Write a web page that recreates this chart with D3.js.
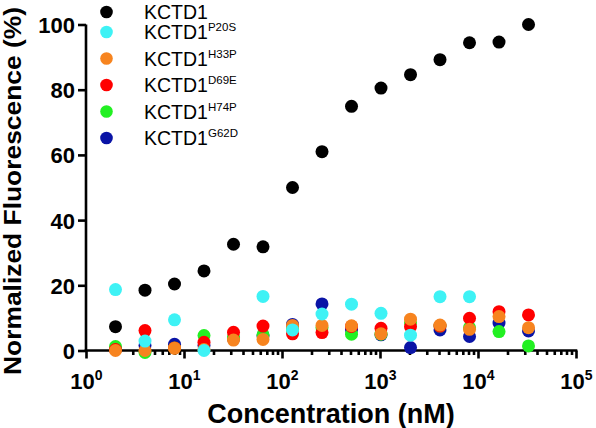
<!DOCTYPE html>
<html>
<head>
<meta charset="utf-8">
<script src="https://cdn.jsdelivr.net/npm/d3@7"></script>
<style>
html,body{margin:0;padding:0;background:#fff;}
svg{display:block;font-family:"Liberation Sans",Arial,sans-serif;}
</style>
</head>
<body>
<svg id="chart" width="596" height="428"></svg>
<script>
// ---- data ----
const concentrations = [2,4,8,16,32,64,128,256,512,1024,2048,4096,8192,16384,32768];
const seriesNames = ["KCTD1","KCTD1","KCTD1","KCTD1","KCTD1","KCTD1"];
const seriesSups  = ["","P20S","H33P","D69E","H74P","G62D"];
const seriesColors = ["#000000","#3ef2f5","#f7841f","#ff0000","#22f022","#0a14a6"];
const kctd1 = [7.3,18.5,20.4,24.4,32.6,31.8,50.0,61.0,74.9,80.5,84.6,89.2,94.4,94.6,100];
const p20s  = [18.7,2.9,9.4,0,null,16.6,6.3,11.2,14.2,11.4,4.7,16.5,16.5,null,null];
const h33p  = [0,0,0.7,0.3,3.2,3.4,7.7,7.7,7.6,5.1,9.6,7.8,6.5,10.4,7.0];
const d69e  = [0.3,6.1,0.8,2.5,5.6,7.5,5.1,5.5,7.4,6.8,7.3,7.5,9.9,11.9,10.9];
const h74p  = [1.2,-0.6,0.8,4.6,4.0,4.8,6.5,7.0,5.0,5.0,8.5,7.5,7.0,5.8,1.4];
const g62d  = [0.3,1.5,1.9,1.5,3.5,4.5,8.0,14.3,6.4,4.8,0.9,6.3,4.3,8.4,6.0];
const seriesValues = [kctd1,p20s,h33p,d69e,h74p,g62d];
const yTicks = [0,20,40,60,80,100];
const xTickExps = [0,1,2,3,4,5];

// ---- layout ----
const svg = d3.select("#chart");
const mL = 86, mR = 576, mT = 24.5, mB = 350.5;
const x = d3.scaleLog().domain([1,1e5]).range([mL,mR]);
const y = d3.scaleLinear().domain([0,100]).range([mB,mT]);
const axisW = 2.6;

// y axis
const yAxis = svg.append("g").attr("transform",`translate(${mL},0)`)
  .call(d3.axisLeft(y).tickValues(yTicks).tickSize(8).tickPadding(3).tickFormat(d3.format("d")));
yAxis.select(".domain").attr("d",`M0,${mT}V${mB}`).attr("stroke","#000").attr("stroke-width",axisW);
yAxis.selectAll(".tick line").attr("stroke","#000").attr("stroke-width",axisW);
yAxis.selectAll(".tick text").attr("font-size",22).attr("font-weight","bold").attr("fill","#000")
  .attr("font-family","'Liberation Sans',Arial,sans-serif").attr("dy","0.36em");

// x axis: minor ticks
const minorTicks = [];
for (let e=0;e<5;e++) for (let m=2;m<=9;m++) minorTicks.push(m*Math.pow(10,e));
const xMinor = svg.append("g").attr("transform",`translate(0,${mB})`)
  .call(d3.axisBottom(x).tickValues(minorTicks).tickSize(4.5).tickFormat(""));
xMinor.select(".domain").remove();
xMinor.selectAll(".tick line").attr("stroke","#000").attr("stroke-width",axisW);

const xAxis = svg.append("g").attr("transform",`translate(0,${mB})`)
  .call(d3.axisBottom(x).tickValues(xTickExps.map(e=>Math.pow(10,e))).tickSize(8).tickFormat(""));
xAxis.select(".domain").attr("d",`M${mL-axisW/2},0H${mR+axisW/2}`).attr("stroke","#000").attr("stroke-width",axisW);
xAxis.selectAll(".tick line").attr("stroke","#000").attr("stroke-width",axisW);
// x tick labels with superscripts
xAxis.selectAll(".tick").each(function(d,i){
  const t = d3.select(this).append("text").attr("y",38).attr("text-anchor","middle")
    .attr("fill","#000").attr("font-size",22).attr("font-weight","bold");
  t.append("tspan").text("10");
  t.append("tspan").attr("font-size",14).attr("dy",-9).text(String(xTickExps[i]));
});

// axis titles
svg.append("text").attr("x",(mL+mR)/2).attr("y",422.5).attr("text-anchor","middle")
  .attr("font-size",27).attr("font-weight","bold").attr("fill","#000").text("Concentration (nM)");
svg.append("text").attr("transform",`translate(20.5,191) rotate(-90)`).attr("text-anchor","middle")
  .attr("font-size",24.5).attr("font-weight","bold").attr("fill","#000")
  .attr("textLength",368).attr("lengthAdjust","spacingAndGlyphs")
  .text("Normalized Fluorescence (%)");

// points: draw last series first so KCTD1 is on top
const r = 6.5;
for (let s = seriesValues.length-1; s>=0; s--) {
  const pts = concentrations.map((c,i)=>({c, v: seriesValues[s][i]})).filter(p=>p.v!==null);
  svg.append("g").selectAll("circle").data(pts).join("circle")
    .attr("cx",p=>x(p.c)).attr("cy",p=>y(p.v)).attr("r",r).attr("fill",seriesColors[s]);
}

// legend
const legY = [12,32,58.5,85,111.5,138];
const leg = svg.append("g");
seriesNames.forEach((n,i)=>{
  leg.append("circle").attr("cx",106.5).attr("cy",legY[i]).attr("r",6.3).attr("fill",seriesColors[i]);
  const t = leg.append("text").attr("x",144).attr("y",legY[i]).attr("dy","0.36em")
    .attr("font-size",19.5).attr("fill","#000");
  t.append("tspan").text(n);
  if (seriesSups[i]) t.append("tspan").attr("font-size",11.5).attr("dy",-8).text(seriesSups[i]);
});
</script>
</body>
</html>
